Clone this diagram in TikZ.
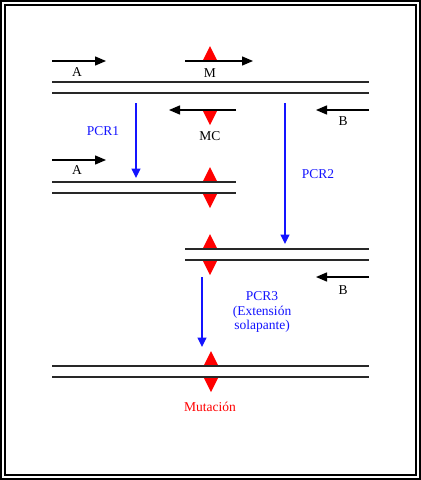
\documentclass[tikz,border=0pt]{standalone}
\usepackage{fontspec}
\setmainfont{Liberation Serif}
\usetikzlibrary{arrows.meta}
\definecolor{pcrblue}{RGB}{20,20,255}
\definecolor{mutred}{RGB}{255,0,0}
\definecolor{strand}{RGB}{40,40,40}
\tikzset{
  primer/.style={line width=1.4pt,-{Triangle[length=11pt,width=9pt]}},
  dna/.style={line width=1.5pt,strand},
  pcrarrow/.style={line width=1.3pt,pcrblue,-{Triangle[length=9.5pt,width=9pt]}},
  lbl/.style={font=\fontsize{13.5}{14.5}\selectfont,inner sep=0pt},
  bluelbl/.style={lbl,text=pcrblue,align=center},
  mutup/.style={fill=mutred,draw=none},
}
\newcommand{\upmark}[2]{\fill[mutup] (#1-7.5,#2) -- (#1,#2-15) -- (#1+7.5,#2) -- cycle;}
\newcommand{\downmark}[2]{\fill[mutup] (#1-7.5,#2) -- (#1,#2+15) -- (#1+7.5,#2) -- cycle;}
\begin{document}
\begin{tikzpicture}[x=1pt,y=-1pt]
\useasboundingbox (0,0) rectangle (421,480);
\fill[white] (0,0) rectangle (421,480);
\draw[line width=2.4pt] (1.2,1.2) rectangle (419.8,478.8);
\draw[line width=1.5pt] (5,5) rectangle (416,475);
% row 1 primers
\upmark{210}{61}
\coordinate (a1s) at (52,61); \coordinate (a1e) at (106,61);
\draw[primer] (a1s) -- (a1e);
\node[lbl] (la1) at (77,72) {A};
\coordinate (ms) at (185,61); \coordinate (me) at (253,61);
\draw[primer] (ms) -- (me);
\node[lbl] (lm) at (210,73) {M};
% template
\coordinate (t1a) at (52,82); \coordinate (t1b) at (369,82);
\coordinate (t2a) at (52,93); \coordinate (t2b) at (369,93);
\draw[dna] (t1a) -- (t1b);
\draw[dna] (t2a) -- (t2b);
% MC and B
\downmark{210}{110}
\coordinate (mcs) at (236,110); \coordinate (mce) at (169,110);
\draw[primer] (mcs) -- (mce);
\node[lbl] (lmc) at (210,136) {MC};
\coordinate (b1s) at (369,110); \coordinate (b1e) at (316,110);
\draw[primer] (b1s) -- (b1e);
\node[lbl] (lb1) at (343,121) {B};
% PCR1
\coordinate (p1s) at (136,103); \coordinate (p1e) at (136,178);
\draw[pcrarrow] (p1s) -- (p1e);
\node[bluelbl] (lp1) at (103,131) {PCR1};
% second row
\coordinate (a2s) at (52,160); \coordinate (a2e) at (106,160);
\draw[primer] (a2s) -- (a2e);
\node[lbl] (la2) at (77,170) {A};
\upmark{210}{182}
\downmark{210}{193}
\coordinate (u1a) at (52,182); \coordinate (u1b) at (236,182);
\coordinate (u2a) at (52,193); \coordinate (u2b) at (236,193);
\draw[dna] (u1a) -- (u1b);
\draw[dna] (u2a) -- (u2b);
% PCR2
\coordinate (p2s) at (285,103); \coordinate (p2e) at (285,244);
\draw[pcrarrow] (p2s) -- (p2e);
\node[bluelbl] (lp2) at (318,174) {PCR2};
% third row
\upmark{210}{249}
\downmark{210}{260}
\coordinate (v1a) at (185,249); \coordinate (v1b) at (369,249);
\coordinate (v2a) at (185,260); \coordinate (v2b) at (369,260);
\draw[dna] (v1a) -- (v1b);
\draw[dna] (v2a) -- (v2b);
\coordinate (b2s) at (369,277); \coordinate (b2e) at (316,277);
\draw[primer] (b2s) -- (b2e);
\node[lbl] (lb2) at (343,290) {B};
% PCR3
\coordinate (p3s) at (202,277); \coordinate (p3e) at (202,347);
\draw[pcrarrow] (p3s) -- (p3e);
\node[bluelbl] (lp3) at (262,312) {PCR3\\(Extensión\\solapante)};
% final
\upmark{211}{366}
\downmark{211}{377}
\coordinate (w1a) at (52,366); \coordinate (w1b) at (369,366);
\coordinate (w2a) at (52,377); \coordinate (w2b) at (369,377);
\draw[dna] (w1a) -- (w1b);
\draw[dna] (w2a) -- (w2b);
\node[lbl,text=mutred] (lmut) at (210,407) {Mutación};
\end{tikzpicture}
\end{document}
